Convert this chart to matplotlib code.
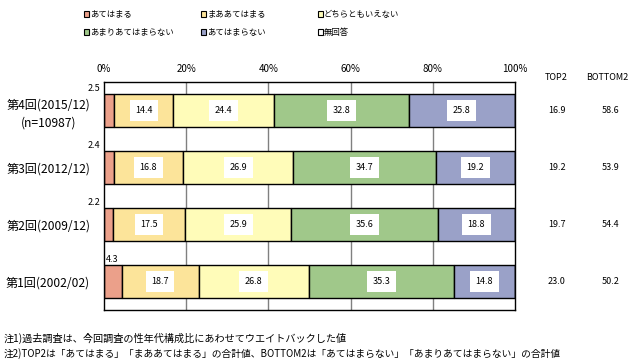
import matplotlib
matplotlib.use("Agg")
import matplotlib.pyplot as plt
from matplotlib.patches import Rectangle

plt.rcParams['font.family'] = ['Noto Sans CJK JP', 'DejaVu Sans']

rows = ["第4回(2015/12)\n(n=10987)", "第3回(2012/12)", "第2回(2009/12)", "第1回(2002/02)"]
categories = ["あてはまる", "まああてはまる", "どちらともいえない", "あまりあてはまらない", "あてはまらない", "無回答"]
colors = ["#EBA08A", "#FCE49A", "#FFFCB9", "#A0C88A", "#9AA1C8", "#FFFFFF"]
s_atehamaru = [2.5, 2.4, 2.2, 4.3]
s_maa = [14.4, 16.8, 17.5, 18.7]
s_dochira = [24.4, 26.9, 25.9, 26.8]
s_amari = [32.8, 34.7, 35.6, 35.3]
s_atehamaranai = [25.8, 19.2, 18.8, 14.8]
s_mukaitou = [0.1, 0.0, 0.0, 0.1]
top2 = ["16.9", "19.2", "19.7", "23.0"]
bottom2 = ["58.6", "53.9", "54.4", "50.2"]
xticks = [0, 20, 40, 60, 80, 100]
notes = ["注1)過去調査は、今回調査の性年代構成比にあわせてウエイトバックした値",
         "注2)TOP2は「あてはまる」「まああてはまる」の合計値、BOTTOM2は「あてはまらない」「あまりあてはまらない」の合計値"]

series = [s_atehamaru, s_maa, s_dochira, s_amari, s_atehamaranai, s_mukaitou]

W, H = 635, 363
fig = plt.figure(figsize=(W/100, H/100), dpi=100)
ax = fig.add_axes([104/W, 1-310/H, (515-104)/W, (310-82)/H])
ax.set_xlim(0, 100)
ax.set_ylim(3.5, -0.5)

ypos = list(range(len(rows)))
for x in [20, 40, 60, 80]:
    ax.axvline(x, color="#808080", lw=1, zorder=0)

left = [0.0]*len(rows)
for i, (s, c) in enumerate(zip(series, colors)):
    ax.barh(ypos, s, left=left, height=0.58, color=c, edgecolor="black", lw=1, zorder=2)
    for j, v in enumerate(s):
        if i == 0:
            if v > 3:
                ax.text(0.5, ypos[j]-0.31, f"{v:.1f}", ha="left", va="bottom", fontsize=6.5, zorder=3)
            else:
                ax.text(-0.8, ypos[j]-0.31, f"{v:.1f}", ha="right", va="bottom", fontsize=6.5, zorder=3)
        elif 1 <= i <= 4:
            ax.text(left[j] + v/2, ypos[j], f"{v:.1f}", ha="center", va="center", fontsize=6.5,
                    zorder=3, bbox=dict(facecolor="white", edgecolor="none", pad=4))
        left[j] += v

ax.set_yticks(ypos)
ax.set_yticklabels(rows, fontsize=8.7, linespacing=1.5, multialignment="center")
ax.tick_params(axis="y", length=0, pad=10)
ax.xaxis.tick_top()
ax.set_xticks(xticks)
ax.set_xticklabels([f"{t}%" for t in xticks], fontsize=7)
ax.tick_params(axis="x", length=0, pad=6)
for sp in ax.spines.values():
    sp.set_color("black")
    sp.set_linewidth(1)

# TOP2 / BOTTOM2 columns
fig.text(556/W, 1-78/H, "TOP2", ha="center", va="center", fontsize=6.5)
fig.text(607/W, 1-78/H, "BOTTOM2", ha="center", va="center", fontsize=6.5)
for j in range(len(rows)):
    yy = ax.transData.transform((0, ypos[j]))[1] / H
    fig.text(557/W, yy, top2[j], ha="center", va="center", fontsize=6.5)
    fig.text(611/W, yy, bottom2[j], ha="center", va="center", fontsize=6.5)

# legend
leg_pos = [(84, 14), (201, 14), (318, 14), (84, 32), (201, 32), (318, 32)]
for (lx, ly), lab, c in zip(leg_pos, categories, colors):
    fig.patches.append(Rectangle((lx/W, 1-(ly+2.5)/H), 5/W, 5/H, transform=fig.transFigure,
                                 facecolor=c, edgecolor="black", lw=0.8))
    fig.text((lx+6)/W, 1-ly/H, lab, ha="left", va="center", fontsize=6)

fig.text(4/W, 1-338/H, notes[0], ha="left", va="center", fontsize=7.3)
fig.text(4/W, 1-354/H, notes[1], ha="left", va="center", fontsize=7)

fig.savefig("out.png", dpi=100)
